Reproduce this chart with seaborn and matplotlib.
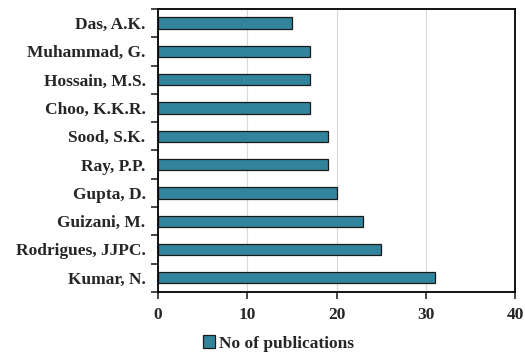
import numpy as np
import pandas as pd
import matplotlib
matplotlib.use('Agg')
import matplotlib.pyplot as plt
import seaborn as sns
from matplotlib.ticker import FixedLocator

authors = ['Das, A.K.', 'Muhammad, G.', 'Hossain, M.S.', 'Choo, K.K.R.', 'Sood, S.K.',
           'Ray, P.P.', 'Gupta, D.', 'Guizani, M.', 'Rodrigues, JJPC.', 'Kumar, N.']
publications = [15, 17, 17, 17, 19, 19, 20, 23, 25, 31]
x_ticks = [0, 10, 20, 30, 40]

sns.set_style('white')
plt.rcParams['font.family'] = ['Liberation Serif', 'DejaVu Serif']
plt.rcParams['font.weight'] = 'bold'

df = pd.DataFrame({'author': authors, 'pubs': publications})

fig = plt.figure(figsize=(5.25, 3.56), dpi=100)
ax = fig.add_axes([0.301, 0.18, 0.680, 0.795])

sns.barplot(data=df, x='pubs', y='author', color='#31849B', saturation=1,
            width=0.4, edgecolor='#1a1a1a', linewidth=0.9, ax=ax,
            label='No of publications')

ax.set_xlim(0, 40)
ax.set_ylim(len(authors) - 0.5, -0.5)
ax.set_xticks(x_ticks)
ax.set_xticklabels([str(t) for t in x_ticks], fontsize=12.5, fontweight='bold')
ax.set_yticklabels(authors, fontsize=12.5, fontweight='bold')
ax.xaxis.grid(True, color='#d9d9d9', linewidth=0.8)
ax.set_axisbelow(True)
ax.set_xlabel('')
ax.set_ylabel('')

ax.yaxis.set_minor_locator(FixedLocator(np.arange(-0.5, len(authors), 1.0)))
ax.tick_params(axis='y', which='major', length=0, pad=9)
ax.tick_params(axis='y', which='minor', length=5, width=1.2, direction='out', left=True)
ax.tick_params(axis='x', which='major', length=5, width=1.2, direction='out', bottom=True, pad=6)

for s in ax.spines.values():
    s.set_linewidth(1.3)
    s.set_color('black')

handles, labels = ax.get_legend_handles_labels()
if ax.get_legend() is not None:
    ax.get_legend().remove()
fig.legend(handles, labels, loc='center', bbox_to_anchor=(0.53, 0.035), frameon=False,
           prop={'size': 12.5, 'weight': 'bold'}, handlelength=0.7, handleheight=0.7,
           handletextpad=0.2)

fig.savefig('out.png', dpi=100)
